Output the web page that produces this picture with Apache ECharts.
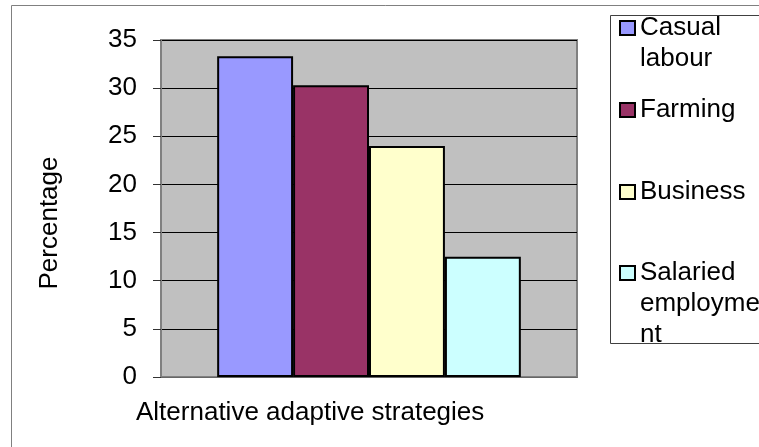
<!DOCTYPE html>
<html>
<head>
<meta charset="utf-8">
<script src="https://cdn.jsdelivr.net/npm/echarts@6/dist/echarts.min.js"></script>
<style>
  html, body { margin: 0; padding: 0; background: #fff; }
  #chart { width: 759px; height: 447px; }
</style>
</head>
<body>
<div id="chart"></div>
<script>
// Share of households by alternative adaptive strategy (%)
const categories = ['Alternative adaptive strategies'];
const seriesNames = ['Casual labour', 'Farming', 'Business', 'Salaried employment'];
const legendLines = [['Casual', 'labour'], ['Farming'], ['Business'], ['Salaried', 'employme', 'nt']];
const casualLabour = [33.3];
const farming = [30.3];
const business = [24.0];
const salariedEmployment = [12.5];
const seriesValues = [casualLabour, farming, business, salariedEmployment];
const yTicks = { min: 0, max: 35, interval: 5 };
const yTitle = 'Percentage';

const colors = ['#9999FF', '#993366', '#FFFFCC', '#CCFFFF'];
const FONT = 'Arial, "Liberation Sans", sans-serif';
const FS = 26;
const LH = 31;

const chart = echarts.init(document.getElementById('chart'), null, { renderer: 'canvas' });

// one legend block per series so each entry can sit on its own row;
// blank lines above a wrapped label keep the swatch level with its first line
const iconCentres = [28, 110, 192, 273];
const legends = seriesNames.map((name, i) => {
  const n = legendLines[i].length;
  return {
    data: [name],
    orient: 'vertical',
    left: 619,
    top: iconCentres[i] - (2 * n - 1) * LH / 2,
    padding: 0,
    icon: 'rect',
    itemWidth: 15,
    itemHeight: 14,
    itemGap: 0,
    selectedMode: false,
    itemStyle: { borderColor: '#000', borderWidth: 2 },
    formatter: () => ' \n'.repeat(n - 1) + legendLines[i].join('\n'),
    textStyle: {
      fontFamily: FONT, fontSize: FS, color: '#000', lineHeight: LH
    }
  };
});

chart.setOption({
  animation: false,
  backgroundColor: '#fff',
  grid: {
    left: 161, right: 182, top: 40, bottom: 70,
    show: true, backgroundColor: '#C0C0C0',
    borderColor: '#808080', borderWidth: 2
  },
  legend: legends,
  xAxis: {
    type: 'category',
    data: categories,
    axisLine: { show: true, lineStyle: { color: '#666', width: 1 } },
    axisTick: { show: false },
    axisLabel: { show: false },
    splitLine: { show: false }
  },
  yAxis: {
    type: 'value',
    min: yTicks.min, max: yTicks.max, interval: yTicks.interval,
    axisLine: { show: true, lineStyle: { color: '#808080', width: 2 } },
    axisTick: { show: true, inside: false, length: 8, lineStyle: { color: '#333', width: 1 } },
    axisLabel: { margin: 24, fontFamily: FONT, fontSize: FS, color: '#000' },
    splitLine: { show: true, lineStyle: { color: '#000', width: 1 } }
  },
  series: seriesNames.map((name, i) => ({
    name: name,
    type: 'bar',
    data: seriesValues[i],
    barGap: '0%',
    barCategoryGap: '27%',
    itemStyle: { color: colors[i], borderColor: '#000', borderWidth: 2 }
  })),
  graphic: [
    {
      type: 'rect', silent: true, z: -1,
      shape: { x: 11.5, y: 5.5, width: 800, height: 500 },
      style: { fill: null, stroke: '#808080', lineWidth: 1 }
    },
    {
      type: 'rect', silent: true, z: 1,
      shape: { x: 610.5, y: 15.5, width: 200, height: 328 },
      style: { fill: null, stroke: '#404040', lineWidth: 1 }
    },
    {
      type: 'text', silent: true,
      x: 50, y: 223, rotation: Math.PI / 2,
      style: {
        text: yTitle, fontFamily: FONT, fontSize: FS, fill: '#000',
        align: 'center', verticalAlign: 'middle'
      }
    },
    {
      type: 'text', silent: true,
      x: 136, y: 413,
      style: {
        text: categories[0], fontFamily: FONT, fontSize: FS, fill: '#000',
        align: 'left', verticalAlign: 'middle'
      }
    }
  ]
});
</script>
</body>
</html>
